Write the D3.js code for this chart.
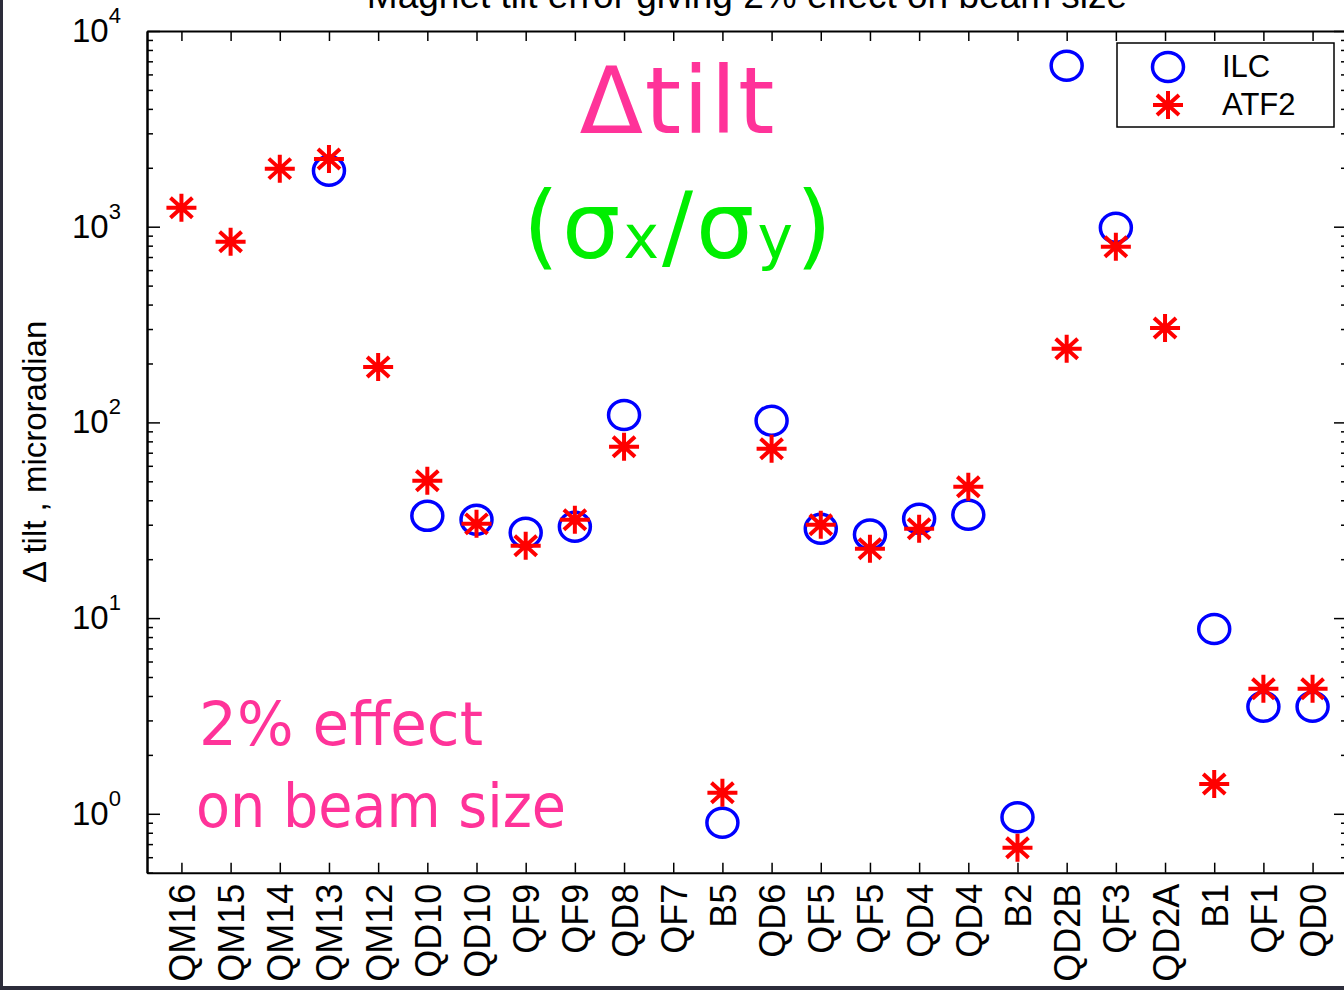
<!DOCTYPE html>
<html>
<head>
<meta charset="utf-8">
<script src="https://cdn.jsdelivr.net/npm/d3@7"></script>
<style>
  body { margin: 0; background: #fff; }
  svg { display: block; }
</style>
</head>
<body>
<div id="chart"></div>
<script>
// magnets along the line, left to right
const magnets = ["QM16", "QM15", "QM14", "QM13", "QM12", "QD10", "QD10", "QF9", "QF9", "QD8", "QF7", "B5",
                 "QD6", "QF5", "QF5", "QD4", "QD4", "B2", "QD2B", "QF3", "QD2A", "B1", "QF1", "QD0"];

// tilt giving 2% beam size effect, microradian (null = not shown)
const ilc  = [null, null, null, 1930, null, 33.3, 31.8, 27.3, 29.3, 109, null, 0.90,
              102, 28.6, 26.7, 32.2, 33.7, 0.96, 6640, 987, null, 8.8, 3.52, 3.52];
const atf2 = [1250, 837, 1980, 2220, 192, 50.3, 30.3, 23.4, 31.8, 75, null, 1.28,
              73.3, 30, 22.6, 28.6, 46.9, 0.67, 238, 789, 304, 1.42, 4.35, 4.35];

const yMajor = [1, 10, 100, 1000, 10000];
const yMinor = [0.5, 0.6, 0.7, 0.8, 0.9];
[1, 10, 100, 1000].forEach(d => { for (let k = 2; k <= 9; k++) yMinor.push(d * k); });

const W = 1344, H = 990;
const margin = {left: 147, right: 1347, top: 31, bottom: 872.7};
const axisFont = "'Liberation Sans', Arial, Helvetica, sans-serif";
const handFont = "'Comic Sans MS', 'DejaVu Sans', sans-serif";
const pink = "#ff3399";

const svg = d3.select("#chart").append("svg")
    .attr("width", W)
    .attr("height", H);

svg.append("rect").attr("width", W).attr("height", H).attr("fill", "#fff");

const x = d3.scaleLinear().domain([0.3, 24.7]).range([margin.left, margin.right]);
const y = d3.scaleLog().domain([0.5, 10000]).range([margin.bottom, margin.top]);

// axes, all ticks pointing inward
const ticksX = d3.range(1, magnets.length + 1);

svg.append("g")
    .attr("class", "x-axis")
    .attr("transform", "translate(0," + margin.bottom + ")")
    .call(d3.axisBottom(x).tickValues(ticksX).tickSize(-10).tickSizeOuter(0)
        .tickFormat(d => magnets[d - 1]))
    .call(g => g.selectAll("text")
        .attr("transform", "rotate(-90)")
        .attr("text-anchor", "end")
        .attr("x", -11)
        .attr("y", 0)
        .attr("dy", "0.36em")
        .style("font-family", axisFont)
        .style("font-size", "36px")
        .style("fill", "#000"));

svg.append("g")
    .attr("transform", "translate(0," + margin.top + ")")
    .call(d3.axisTop(x).tickValues(ticksX).tickSize(-10).tickSizeOuter(0).tickFormat(""));

svg.append("g")
    .attr("class", "y-axis-left")
    .attr("transform", "translate(" + margin.left + ",0)")
    .call(d3.axisLeft(y).tickValues(yMajor).tickSize(-13).tickSizeOuter(0).tickFormat(""));
svg.append("g")
    .attr("transform", "translate(" + margin.left + ",0)")
    .call(d3.axisLeft(y).tickValues(yMinor).tickSize(-6).tickSizeOuter(0).tickFormat(""));

svg.append("g")
    .attr("transform", "translate(" + margin.right + ",0)")
    .call(d3.axisRight(y).tickValues(yMajor).tickSize(-13).tickSizeOuter(0).tickFormat(""));
svg.append("g")
    .attr("transform", "translate(" + margin.right + ",0)")
    .call(d3.axisRight(y).tickValues(yMinor).tickSize(-6).tickSizeOuter(0).tickFormat(""));

svg.selectAll(".domain").attr("stroke", "#000").attr("stroke-width", 2);
svg.selectAll(".tick line").attr("stroke", "#000").attr("stroke-width", 1.5);

// y tick labels as 10 with superscript exponent
const yLab = svg.append("g").selectAll("text")
    .data(yMajor)
    .enter().append("text")
    .attr("x", 72)
    .attr("y", d => y(d) + 11)
    .style("font-family", axisFont)
    .style("font-size", "33px");
yLab.append("tspan").text("10");
yLab.append("tspan")
    .attr("dy", -19)
    .style("font-size", "22px")
    .text(d => Math.round(Math.log10(d)));

// axis title and chart title
svg.append("text")
    .attr("transform", "translate(46," + (margin.top + margin.bottom) / 2 + ") rotate(-90)")
    .attr("text-anchor", "middle")
    .style("font-family", axisFont)
    .style("font-size", "33px")
    .text("\u0394 tilt , microradian");

svg.append("text")
    .attr("x", (margin.left + margin.right) / 2)
    .attr("y", 8)
    .attr("text-anchor", "middle")
    .style("font-family", axisFont)
    .style("font-size", "37px")
    .text("Magnet tilt error giving 2% effect on beam size");

// markers
function ring(sel) {
    sel.append("ellipse")
        .attr("rx", 15.5)
        .attr("ry", 14.5)
        .attr("fill", "none")
        .attr("stroke", "#0000ff")
        .attr("stroke-width", 3.5);
}
function star(sel) {
    sel.append("path")
        .attr("d", "M-15,0H15M0,-14V14M-11,-10L11,10M-11,10L11,-10")
        .attr("fill", "none")
        .attr("stroke", "#ff0000")
        .attr("stroke-width", 4);
}

const ilcPts = ilc.map((v, i) => ({i: i + 1, v})).filter(d => d.v != null);
const atfPts = atf2.map((v, i) => ({i: i + 1, v})).filter(d => d.v != null);

svg.append("g").selectAll("g")
    .data(ilcPts)
    .enter().append("g")
    .attr("transform", d => "translate(" + x(d.i) + "," + y(d.v) + ")")
    .call(ring);

svg.append("g").selectAll("g")
    .data(atfPts)
    .enter().append("g")
    .attr("transform", d => "translate(" + x(d.i) + "," + y(d.v) + ")")
    .call(star);

// legend
const legend = svg.append("g");
legend.append("rect")
    .attr("x", 1117).attr("y", 43)
    .attr("width", 217).attr("height", 84)
    .attr("fill", "#fff")
    .attr("stroke", "#000")
    .attr("stroke-width", 1.5);
legend.append("g").attr("transform", "translate(1168,67)").call(ring);
legend.append("g").attr("transform", "translate(1168,105)").call(star);
legend.append("text").attr("x", 1222).attr("y", 77)
    .style("font-family", axisFont).style("font-size", "31px").text("ILC");
legend.append("text").attr("x", 1222).attr("y", 115)
    .style("font-family", axisFont).style("font-size", "31px").text("ATF2");

// annotations
svg.append("text")
    .attr("x", 677).attr("y", 133)
    .attr("text-anchor", "middle")
    .attr("textLength", 195)
    .attr("lengthAdjust", "spacing")
    .style("font-family", handFont)
    .style("font-size", "93px")
    .style("fill", pink)
    .text("\u0394tilt");

const sig = svg.append("text")
    .attr("x", 523).attr("y", 258)
    .attr("textLength", 309)
    .attr("lengthAdjust", "spacing")
    .style("font-family", handFont)
    .style("font-size", "92px")
    .style("fill", "#00ee00");
sig.append("tspan").text("(\u03c3");
sig.append("tspan").style("font-size", "60px").text("x");
sig.append("tspan").text("/\u03c3");
sig.append("tspan").style("font-size", "60px").text("y");
sig.append("tspan").text(")");

svg.append("text")
    .attr("x", 199).attr("y", 745)
    .attr("textLength", 284)
    .attr("lengthAdjust", "spacingAndGlyphs")
    .style("font-family", handFont)
    .style("font-size", "60px")
    .style("fill", pink)
    .text("2% effect");

svg.append("text")
    .attr("x", 196).attr("y", 827)
    .attr("textLength", 370)
    .attr("lengthAdjust", "spacingAndGlyphs")
    .style("font-family", handFont)
    .style("font-size", "60px")
    .style("fill", pink)
    .text("on beam size");

// dark slide frame at left and bottom edges
svg.append("rect").attr("x", 0).attr("y", 0).attr("width", 3).attr("height", H).attr("fill", "#2c2c3a");
svg.append("rect").attr("x", 0).attr("y", 986).attr("width", W).attr("height", 4).attr("fill", "#2c2c3a");
</script>
</body>
</html>
